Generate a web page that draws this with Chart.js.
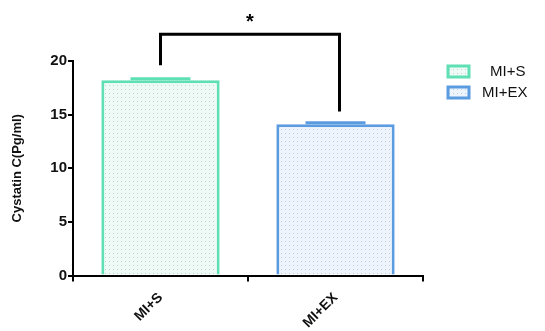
<!DOCTYPE html>
<html><head><meta charset="utf-8">
<script src="https://cdn.jsdelivr.net/npm/chart.js@4"></script>
<style>html,body{margin:0;padding:0;background:#fff}#wrap{width:545px;height:331px}</style>
</head><body><div id="wrap"><canvas id="c" width="545" height="331"></canvas></div>
<script>
const categories = ['MI+S', 'MI+EX'];
const meanValues = [18.2, 14.1];
const semValues = [0.15, 0.15];
const yTicks = [0, 5, 10, 15, 20];
const seriesColors = ['#5fe0b4', '#5b9be0'];
const fillBase = ['#eefaf6', '#eef4fb'];
const bracketTop = 22.5;
const bracketLegEnds = [19.6, 15.3];
const sigLabel = '*';
const yTitle = 'Cystatin C(Pg/ml)';

function makePattern(bg, dot){
  const p = document.createElement('canvas'); p.width = 4; p.height = 4;
  const g = p.getContext('2d');
  g.fillStyle = bg; g.fillRect(0,0,4,4);
  g.fillStyle = dot; g.fillRect(1,1,1,1);
  return document.getElementById('c').getContext('2d').createPattern(p,'repeat');
}
const patterns = [makePattern(fillBase[0], '#bfd6ce'), makePattern(fillBase[1], '#bfcddc')];

const datasets = categories.map((cat, i) => ({
  label: cat,
  data: categories.map((c, j) => j === i ? meanValues[i] : null),
  backgroundColor: patterns[i],
  borderColor: seriesColors[i],
  borderWidth: 3,
  borderSkipped: 'bottom',
  barPercentage: 0.676,
  categoryPercentage: 1,
  grouped: false
}));

const extras = {
  id: 'extras',
  afterDatasetsDraw(chart){
    const ctx = chart.ctx, x = chart.scales.x, y = chart.scales.y;
    ctx.save();
    categories.forEach((c, i) => {
      const cx = x.getPixelForValue(i);
      const top = y.getPixelForValue(meanValues[i] + semValues[i]);
      ctx.strokeStyle = seriesColors[i]; ctx.lineWidth = 3;
      ctx.beginPath(); ctx.moveTo(cx - 30, top); ctx.lineTo(cx + 30, top); ctx.stroke();
    });
    const x1 = x.getPixelForValue(0), x2 = x.getPixelForValue(1) + 4;
    const yt = y.getPixelForValue(bracketTop);
    ctx.strokeStyle = '#000'; ctx.lineWidth = 3; ctx.lineJoin = 'miter';
    ctx.beginPath();
    ctx.moveTo(x1, y.getPixelForValue(bracketLegEnds[0]));
    ctx.lineTo(x1, yt); ctx.lineTo(x2, yt);
    ctx.lineTo(x2, y.getPixelForValue(bracketLegEnds[1]));
    ctx.stroke();
    ctx.fillStyle = '#000'; ctx.font = 'bold 20px "Liberation Sans", Arial';
    ctx.textAlign = 'center'; ctx.textBaseline = 'middle';
    ctx.fillText(sigLabel, (x1 + x2) / 2, yt - 12);
    ctx.font = '15px "Liberation Sans", Arial';
    ctx.textAlign = 'left';
    categories.forEach((c, i) => {
      const ly = 71 + i * 21;
      ctx.fillStyle = patterns[i];
      ctx.fillRect(448, ly - 5, 21, 11);
      ctx.strokeStyle = seriesColors[i]; ctx.lineWidth = 3;
      ctx.strokeRect(448, ly - 5, 21, 11);
      ctx.fillStyle = '#111';
      ctx.fillText(c, i === 0 ? 490 : 482, ly + 1);
    });
    ctx.restore();
  }
};

new Chart(document.getElementById('c'), {
  type: 'bar',
  data: { labels: categories, datasets },
  options: {
    responsive: false, animation: false,
    layout: { padding: { top: 61, right: 122, left: 0, bottom: 0 } },
    plugins: { legend: { display: false }, tooltip: { enabled: false } },
    scales: {
      x: {
        afterFit(s){ s.height = 55.5; },
        grid: { display: true, drawOnChartArea: false, drawTicks: true, tickLength: 6, color: '#000', lineWidth: 2 },
        border: { color: '#000', width: 2 },
        ticks: { color: '#111', font: { family: '"Liberation Sans", Arial', size: 14, weight: 'bold' }, minRotation: 45, maxRotation: 45, padding: 8 }
      },
      y: {
        min: 0, max: 20,
        afterFit(s){ s.width = 73; },
        afterBuildTicks(s){ s.ticks = yTicks.map(v => ({ value: v })); },
        grid: { display: true, drawOnChartArea: false, drawTicks: true, tickLength: 5, color: '#000', lineWidth: 2 },
        border: { color: '#000', width: 2 },
        ticks: { color: '#111', font: { family: '"Liberation Sans", Arial', size: 15, weight: 'bold' }, padding: 1 },
        title: { display: true, text: yTitle, color: '#111', font: { family: '"Liberation Sans", Arial', size: 13, weight: 'bold' }, padding: { top: 10, bottom: 4 } }
      }
    }
  },
  plugins: [extras]
});
</script></body></html>
